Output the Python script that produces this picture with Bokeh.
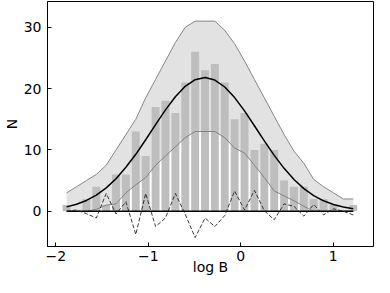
from bokeh.plotting import figure
from bokeh.models import Range1d, FixedTicker, ColumnDataSource
from bokeh.embed import file_html
from bokeh.resources import INLINE

# bin centres (log B)
logB = [-1.883, -1.776, -1.669, -1.562, -1.455, -1.349, -1.242, -1.135, -1.028, -0.921,
        -0.814, -0.707, -0.600, -0.493, -0.386, -0.280, -0.173, -0.066, 0.041, 0.148,
        0.255, 0.362, 0.469, 0.576, 0.683, 0.789, 0.896, 1.003, 1.110, 1.217]
# histogram counts
counts = [1, 0, 2, 4, 1, 6, 6, 13, 9, 17, 18, 16, 21, 26, 23, 24, 21, 15, 16, 10,
          11, 10, 5, 4, 4, 2, 2, 1, 0, 1]
# model curve
model = [0.71, 1.13, 1.76, 2.63, 3.81, 5.31, 7.16, 9.28, 11.66, 14.13,
         16.52, 18.68, 20.37, 21.45, 21.8, 21.39, 20.26, 18.53, 16.36, 13.94,
         11.47, 9.11, 6.99, 5.17, 3.69, 2.55, 1.70, 1.09, 0.68, 0.41]
# envelope
upper = [3, 4, 5, 6, 7.5, 10, 12.5, 15, 18.5, 21.5, 24.5, 27.5, 30, 31, 31, 31, 29.5,
         27.3, 24.5, 21.5, 18.5, 15.5, 12.5, 9.8, 7.8, 5.2, 4, 3, 2, 2]
lower = [0, 0, 0, 0.3, 1, 1.2, 3, 4.3, 5.5, 7.5, 9, 10.5, 12, 13, 13, 13, 12, 10.3,
         9.5, 7.5, 5.5, 3.3, 2.5, 1.7, 0.8, 0, 0, 0, 0, 0]
# residual (dashed)
resid = [0, 0.2, -0.4, -1.1, 2.9, -0.45, 1.55, -3.8, 2.9, -2.5, -1.1, 2.9, -0.5, -4.3,
         -1.1, -2.5, -0.7, 3.3, 0.2, 3.4, 0.1, -1.4, 1.2, 0.8, -0.8, 1.1, -0.6, 0.4, 0, -0.6]
zero = [0] * len(logB)

bin_w = 0.1069
x0, x1 = -2.09, 1.436
y0, y1 = -5.75, 34.2

src = ColumnDataSource(dict(x=logB, n=counts, m=model, up=upper, lo=lower, r=resid, z=zero))

p = figure(width=374, height=277, output_backend="svg", toolbar_location=None,
           x_range=Range1d(x0, x1), y_range=Range1d(y0, y1),
           min_border_left=0, min_border_right=1, min_border_top=1, min_border_bottom=0)

p.varea(x="x", y1="lo", y2="up", source=src, fill_color="#e2e2e2")
p.vbar(x="x", top="n", bottom=0, width=bin_w * 0.8, source=src,
       fill_color="#bebebe", line_color=None)
p.line(x="x", y="up", source=src, line_color="#7a7a7a", line_width=0.9)
p.line(x="x", y="lo", source=src, line_color="#7a7a7a", line_width=0.9)
p.line(x="x", y="m", source=src, line_color="black", line_width=1.5)
p.line(x="x", y="z", source=src, line_color="black", line_width=1.5)
p.line(x="x", y="r", source=src, line_color="#222222", line_width=0.9, line_dash="4 2")

p.grid.visible = False
p.outline_line_color = "black"
p.outline_line_width = 1
p.background_fill_color = "white"
p.border_fill_color = "white"

p.xaxis.ticker = FixedTicker(ticks=[-2, -1, 0, 1])
p.yaxis.ticker = FixedTicker(ticks=[0, 10, 20, 30])
p.xaxis.major_label_overrides = {-2: "\u22122", -1: "\u22121", 0: "0", 1: "1"}
p.xaxis.axis_label = "log B"
p.yaxis.axis_label = "N"
for ax in (p.xaxis[0], p.yaxis[0]):
    ax.major_tick_in = 4
    ax.major_tick_out = 0
    ax.minor_tick_in = 0
    ax.minor_tick_out = 0
    ax.major_tick_line_color = "black"
    ax.axis_line_color = "black"
    ax.major_label_text_font = "DejaVu Sans"
    ax.major_label_text_font_size = "14px"
    ax.major_label_text_color = "black"
    ax.axis_label_text_font = "DejaVu Sans"
    ax.axis_label_text_font_size = "14px"
    ax.axis_label_text_font_style = "normal"
    ax.axis_label_text_color = "black"
p.xaxis.major_label_standoff = 4
p.xaxis.axis_label_standoff = -5
p.yaxis.major_label_standoff = 6
p.yaxis.axis_label_standoff = 1

open("out.html", "w").write(file_html(p, INLINE))
